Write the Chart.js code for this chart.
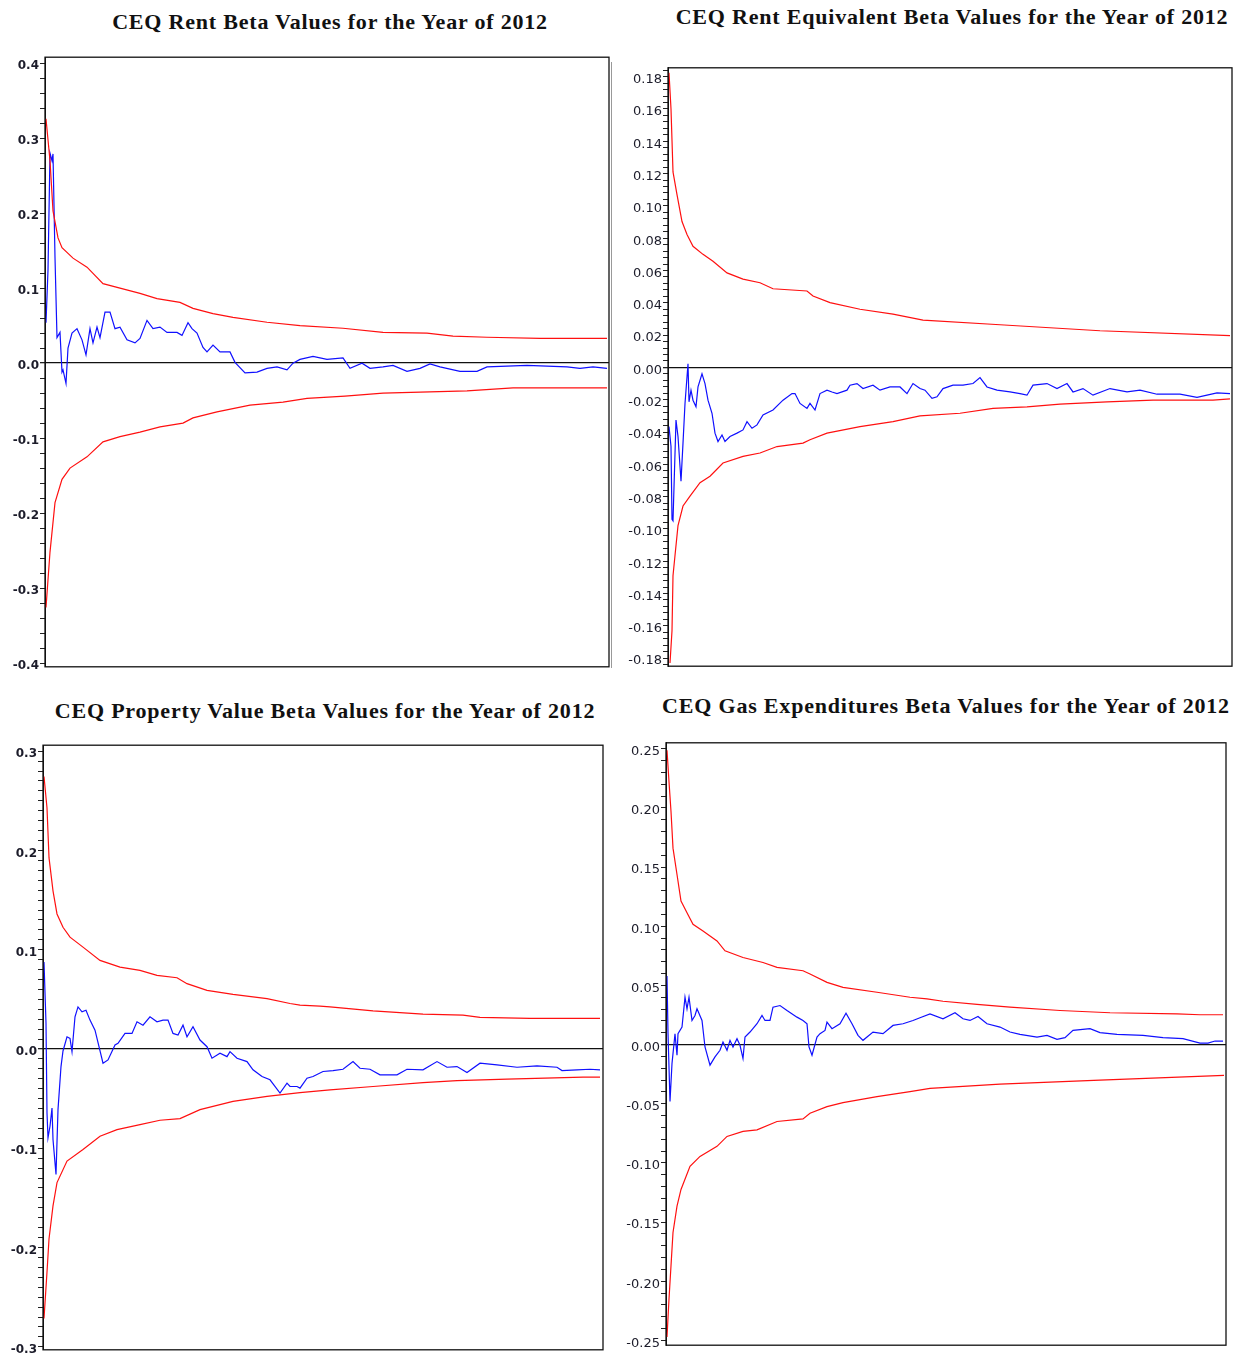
<!DOCTYPE html>
<html>
<head>
<meta charset="utf-8">
<script src="https://cdn.jsdelivr.net/npm/chart.js@4.4.1/dist/chart.umd.min.js"></script>
<style>
  body { margin: 0; background: #fff; width: 1248px; height: 1360px; position: relative; overflow: hidden; }
  .title { position: absolute; font: bold 22px "Liberation Serif", "Times New Roman", serif; color: #111;
           letter-spacing: 0.8px; white-space: nowrap; transform: translateX(-50%); line-height: 24px; }
  canvas { position: absolute; }
  .sep { position: absolute; left: 611px; top: 62px; width: 1px; height: 606px; background: #999; }
</style>
</head>
<body>
<div class="title" style="left:330px;top:10px">CEQ Rent Beta Values for the Year of 2012</div>
<div class="title" style="left:952px;top:5px">CEQ Rent Equivalent Beta Values for the Year of 2012</div>
<div class="title" style="left:325px;top:699px">CEQ Property Value Beta Values for the Year of 2012</div>
<div class="title" style="left:946px;top:694px">CEQ Gas Expenditures Beta Values for the Year of 2012</div>
<div class="sep"></div>
<canvas id="c1"></canvas>
<canvas id="c2"></canvas>
<canvas id="c3"></canvas>
<canvas id="c4"></canvas>
<script>
// x = observation number, y = beta value / confidence bands

// rent
const rentUpperX = [1, 5, 8, 13, 17, 28, 42, 58, 75, 95, 112, 135, 148, 168, 188, 222, 255, 298, 338, 382, 408, 442, 495, 562];
const rentUpper = [0.326, 0.27, 0.203, 0.167, 0.154, 0.14, 0.128, 0.106, 0.1, 0.093, 0.086, 0.081, 0.073, 0.066, 0.061, 0.0545, 0.05, 0.0465, 0.041, 0.040, 0.036, 0.0345, 0.033, 0.033];
const rentLowerX = [1, 5, 10, 17, 25, 42, 58, 75, 95, 115, 138, 148, 172, 205, 238, 262, 300, 338, 422, 468, 562];
const rentLower = [-0.326, -0.252, -0.186, -0.155, -0.14, -0.125, -0.105, -0.098, -0.092, -0.085, -0.08, -0.073, -0.065, -0.056, -0.052, -0.047, -0.044, -0.04, -0.037, -0.033, -0.033];
const rentBetaX = [1, 3, 5, 7, 8, 10, 12, 15, 17, 18, 21, 23, 27, 32, 37, 41, 45, 48, 52, 55,
  60, 65, 70, 75, 82, 90, 95, 102, 108, 115, 122, 132, 137, 143, 147, 152, 158, 162, 168, 175,
  185, 190, 200, 212, 222, 232, 242, 248, 255, 268, 282, 298, 305, 317, 325, 338, 348, 362, 375, 385,
  395, 415, 432, 442, 462, 482, 502, 522, 535, 548, 562];
const rentBeta = [0.054, 0.124, 0.28, 0.27, 0.279, 0.141, 0.034, 0.041, -0.012, -0.009, -0.027, 0.02, 0.04, 0.046, 0.031, 0.011, 0.046, 0.027, 0.048, 0.034,
  0.068, 0.068, 0.046, 0.048, 0.031, 0.027, 0.033, 0.057, 0.046, 0.048, 0.041, 0.041, 0.037, 0.054, 0.046, 0.04, 0.021, 0.015, 0.024, 0.015,
  0.015, 0.001, -0.013, -0.012, -0.007, -0.005, -0.009, 0, 0.005, 0.009, 0.005, 0.007, -0.007, 0, -0.007, -0.005, -0.003, -0.011, -0.007, -0.001,
  -0.005, -0.011, -0.011, -0.005, -0.004, -0.003, -0.004, -0.005, -0.007, -0.005, -0.007];

// rent equivalent
const equivUpperX = [1, 3, 5, 9, 14, 19, 25, 35, 45, 59, 75, 92, 105, 139, 145, 162, 192, 225, 255, 332, 432, 562];
const equivUpper = [0.1824, 0.16, 0.121, 0.107, 0.0903, 0.0823, 0.075, 0.07, 0.0657, 0.0585, 0.0547, 0.0524, 0.0487, 0.0473, 0.0442, 0.0401, 0.036, 0.033, 0.0293, 0.0264, 0.0227, 0.0197];
const equivLowerX = [2, 4, 5, 7, 10, 15, 22, 32, 42, 55, 75, 92, 109, 135, 142, 159, 192, 225, 252, 292, 325, 359, 392, 439, 485, 545, 562];
const equivLower = [-0.183, -0.163, -0.129, -0.1165, -0.098, -0.0858, -0.0797, -0.0714, -0.0674, -0.0592, -0.0551, -0.053, -0.049, -0.0469, -0.0448, -0.0407, -0.0367, -0.0336, -0.03, -0.0284, -0.0254, -0.0244, -0.0227, -0.0213, -0.0203, -0.0203, -0.0195];
const equivBetaX = [1, 3, 4, 5, 8, 10, 13, 15, 17, 20, 21, 23, 25, 28, 30, 34, 37, 40, 44, 47,
  50, 54, 57, 62, 69, 75, 79, 84, 89, 95, 105, 115, 124, 127, 132, 139, 142, 147, 152, 159,
  164, 169, 179, 182, 189, 195, 205, 212, 222, 232, 239, 245, 252, 257, 264, 269, 275, 285, 295, 305,
  312, 319, 329, 342, 352, 359, 365, 379, 389, 399, 405, 415, 425, 442, 459, 472, 489, 512, 529, 539, 549, 562];
const equivBeta = [-0.0367, -0.049, -0.094, -0.095, -0.0326, -0.0428, -0.0705, -0.0469, -0.0223, 0.0023, -0.0213, -0.0141, -0.0203, -0.0244, -0.0121, -0.0039, -0.01, -0.0203, -0.0284, -0.0407,
  -0.0459, -0.0418, -0.0459, -0.0428, -0.0407, -0.0387, -0.0336, -0.0377, -0.0356, -0.0295, -0.0264, -0.0203, -0.0162, -0.0162, -0.0223, -0.0254, -0.0223, -0.0264, -0.0162, -0.0141,
  -0.0152, -0.0162, -0.0141, -0.011, -0.01, -0.0131, -0.011, -0.0141, -0.0121, -0.0121, -0.0162, -0.01, -0.0131, -0.0141, -0.0192, -0.0182, -0.0131, -0.011, -0.011, -0.01,
  -0.0063, -0.0121, -0.0141, -0.0152, -0.0162, -0.0172, -0.011, -0.01, -0.0131, -0.01, -0.0152, -0.0131, -0.0172, -0.0131, -0.0152, -0.0141, -0.0166, -0.0166, -0.0186, -0.0172, -0.0158, -0.0162];

// property value
const propUpperX = [1, 4, 6, 10, 14, 20, 27, 40, 57, 77, 97, 114, 134, 144, 164, 190, 224, 247, 257, 277, 287, 330, 380, 420, 437, 487, 557];
const propUpper = [0.2745, 0.2428, 0.1927, 0.1593, 0.136, 0.1226, 0.1126, 0.1026, 0.0892, 0.0825, 0.0792, 0.0741, 0.0718, 0.0658, 0.0591, 0.0551, 0.0508, 0.0458, 0.0441, 0.0431, 0.0424, 0.0384, 0.0351, 0.0341, 0.0318, 0.0308, 0.0308];
const propLowerX = [1, 4, 6, 10, 14, 24, 40, 57, 74, 97, 117, 137, 157, 190, 224, 257, 287, 330, 380, 414, 464, 540, 557];
const propLower = [-0.2715, -0.2247, -0.1914, -0.158, -0.1346, -0.1129, -0.1012, -0.0879, -0.0812, -0.0762, -0.0718, -0.0701, -0.0611, -0.0528, -0.0478, -0.044, -0.0411, -0.0378, -0.0338, -0.0318, -0.0304, -0.0284, -0.0284];
const propBetaX = [1, 3, 4, 5, 7, 9, 10, 13, 15, 18, 20, 24, 27, 29, 32, 35, 39, 43, 47, 52,
  56, 60, 65, 72, 75, 82, 89, 94, 100, 107, 114, 120, 125, 130, 135, 140, 144, 150, 157, 164,
  169, 177, 184, 187, 194, 204, 210, 219, 227, 237, 244, 247, 254, 257, 264, 270, 280, 290, 300, 310,
  317, 327, 337, 354, 364, 380, 394, 404, 414, 424, 437, 454, 474, 494, 514, 519, 534, 547, 557];
const propBeta = [0.0875, 0.026, -0.0644, -0.0895, -0.0778, -0.0594, -0.0912, -0.1263, -0.0611, -0.0177, -0.002, 0.0123, 0.0107, -0.0027, 0.0324, 0.0424, 0.0374, 0.0391, 0.0291, 0.019,
  0.0023, -0.0143, -0.011, 0.004, 0.0057, 0.0157, 0.0157, 0.0274, 0.024, 0.0324, 0.0274, 0.0291, 0.0291, 0.0157, 0.014, 0.024, 0.0123, 0.0224, 0.009, 0.0023,
  -0.0093, -0.0043, -0.0077, -0.0027, -0.0093, -0.0127, -0.021, -0.0277, -0.031, -0.0444, -0.0344, -0.0378, -0.0378, -0.0394, -0.0294, -0.0277, -0.0227, -0.0217, -0.0204, -0.0127,
  -0.0194, -0.0204, -0.026, -0.026, -0.0204, -0.021, -0.0127, -0.0184, -0.0177, -0.0237, -0.0143, -0.016, -0.0184, -0.017, -0.0184, -0.0217, -0.021, -0.0204, -0.021];

// gas expenditures
const gasUpperX = [1, 3, 5, 7, 11, 15, 21, 27, 37, 51, 59, 77, 97, 111, 137, 144, 161, 177, 211, 244, 261, 277, 311, 344, 394, 444, 511, 534, 557];
const gasUpper = [0.2487, 0.2221, 0.1969, 0.166, 0.1437, 0.1213, 0.1114, 0.1017, 0.096, 0.0876, 0.0792, 0.0736, 0.0694, 0.0652, 0.0624, 0.0597, 0.0526, 0.0484, 0.0442, 0.04, 0.0387, 0.0366, 0.0339, 0.0316, 0.0288, 0.0269, 0.026, 0.0252, 0.0252];
const gasLowerX = [1, 3, 5, 7, 11, 15, 24, 34, 51, 61, 77, 91, 111, 137, 144, 161, 177, 211, 244, 264, 334, 434, 558];
const gasLower = [-0.247, -0.2149, -0.1869, -0.1588, -0.1365, -0.1224, -0.1029, -0.0945, -0.086, -0.0776, -0.0734, -0.072, -0.065, -0.0628, -0.058, -0.0524, -0.0491, -0.044, -0.0398, -0.037, -0.0334, -0.03, -0.026];
const gasBetaX = [1, 2, 4, 6, 7, 9, 11, 12, 16, 19, 21, 23, 26, 29, 31, 36, 39, 44, 49, 54,
  57, 61, 64, 67, 71, 74, 77, 79, 84, 91, 96, 99, 104, 107, 114, 121, 131, 137, 141, 143,
  146, 151, 154, 159, 161, 166, 174, 180, 186, 192, 197, 207, 217, 227, 237, 247, 254, 264, 277, 289,
  297, 304, 312, 321, 334, 344, 354, 371, 381, 391, 399, 407, 424, 434, 451, 477, 497, 517, 534, 542, 549, 557];
const gasBeta = [0.058, 0.01, -0.048, -0.016, -0.0076, 0.0092, -0.009, 0.0092, 0.0148, 0.04, 0.0302, 0.04, 0.0204, 0.0246, 0.0302, 0.0204, -0.002, -0.0174, -0.0104, -0.0048,
  0.0022, -0.0048, 0.0036, -0.002, 0.005, -0.0006, -0.0118, 0.0064, 0.0106, 0.0176, 0.0246, 0.0204, 0.0204, 0.0316, 0.033, 0.0288, 0.0232, 0.0204, 0.0176, -0.002,
  -0.009, 0.0064, 0.0092, 0.012, 0.019, 0.0134, 0.0176, 0.0266, 0.0176, 0.0078, 0.0036, 0.0106, 0.0092, 0.0162, 0.0176, 0.0204, 0.0227, 0.026, 0.0218, 0.0269,
  0.0218, 0.0204, 0.0238, 0.0176, 0.0148, 0.0106, 0.0087, 0.0064, 0.0078, 0.0045, 0.0059, 0.012, 0.0134, 0.0101, 0.0087, 0.0078, 0.0059, 0.005, 0.0013, 0.0013, 0.003, 0.003];

const PAD = 7;

function pts(xs, ys) {
  return xs.map((x, i) => ({ x, y: ys[i] }));
}

const framePlugin = {
  id: "frame",
  afterDatasetsDraw(chart) {
    const { ctx, chartArea: a } = chart;
    ctx.save();
    ctx.strokeStyle = "#111";
    ctx.lineWidth = 1.3;
    ctx.strokeRect(a.left, a.top, a.right - a.left, a.bottom - a.top);
    ctx.restore();
  }
};

function makeChart(id, p) {
  const canvas = document.getElementById(id);
  canvas.width = p.plot.r - p.plot.l + p.axisW + PAD;
  canvas.height = p.plot.b - p.plot.t + 2 * PAD;
  canvas.style.left = (p.plot.l - p.axisW) + "px";
  canvas.style.top = (p.plot.t - PAD) + "px";

  const isZero = v => Math.abs(v) < 1e-9;

  new Chart(canvas, {
    type: "line",
    data: {
      datasets: [
        { data: pts(p.upperX, p.upper), borderColor: "#ff1010", borderWidth: 1.2 },
        { data: pts(p.lowerX, p.lower), borderColor: "#ff1010", borderWidth: 1.2 },
        { data: pts(p.betaX, p.beta), borderColor: "#1010ff", borderWidth: 1.2 }
      ]
    },
    options: {
      responsive: false,
      animation: false,
      events: [],
      elements: { point: { radius: 0 }, line: { tension: 0 } },
      layout: { padding: { top: PAD, bottom: PAD, right: PAD, left: 0 } },
      plugins: { legend: { display: false }, tooltip: { enabled: false } },
      scales: {
        x: { type: "linear", min: 0, max: p.plot.r - p.plot.l, display: false },
        y: {
          min: p.min,
          max: p.max,
          afterFit: s => { s.width = p.axisW; },
          border: { display: true, color: "#111", width: 1 },
          grid: {
            color: c => isZero(c.tick.value) ? "#111" : "rgba(0,0,0,0)",
            lineWidth: c => isZero(c.tick.value) ? 1.3 : 1,
            tickColor: "#222",
            tickLength: 5,
            drawTicks: true
          },
          ticks: {
            stepSize: p.step,
            maxTicksLimit: 1000,
            autoSkip: false,
            includeBounds: false,
            padding: 1,
            labelOffset: 3,
            color: "#1c1c2a",
            font: { family: "DejaVu Sans", size: p.bold ? 12 : 13, weight: p.bold ? "bold" : "normal" },
            callback: v => {
              const k = v / p.major;
              return Math.abs(k - Math.round(k)) < 1e-6 ? (isZero(v) ? 0 : v).toFixed(p.decimals) : "";
            }
          }
        }
      }
    },
    plugins: [framePlugin]
  });
}

makeChart("c1", {
  plot: { l: 45, t: 56, r: 609, b: 668 }, axisW: 40,
  min: -0.405, max: 0.408, step: 0.02, major: 0.1, decimals: 1, bold: true,
  upperX: rentUpperX, upper: rentUpper, lowerX: rentLowerX, lower: rentLower, betaX: rentBetaX, beta: rentBeta
});
makeChart("c2", {
  plot: { l: 668, t: 66, r: 1232, b: 668 }, axisW: 46,
  min: -0.185, max: 0.1855, step: 0.004, major: 0.02, decimals: 2, bold: false,
  upperX: equivUpperX, upper: equivUpper, lowerX: equivLowerX, lower: equivLower, betaX: equivBetaX, beta: equivBeta
});
makeChart("c3", {
  plot: { l: 43, t: 744, r: 603, b: 1351 }, axisW: 40,
  min: -0.303, max: 0.306, step: 0.01, major: 0.1, decimals: 1, bold: true,
  upperX: propUpperX, upper: propUpper, lowerX: propLowerX, lower: propLower, betaX: propBetaX, beta: propBeta
});
makeChart("c4", {
  plot: { l: 666, t: 741, r: 1226, b: 1347 }, axisW: 46,
  min: -0.254, max: 0.255, step: 0.01, major: 0.05, decimals: 2, bold: false,
  upperX: gasUpperX, upper: gasUpper, lowerX: gasLowerX, lower: gasLower, betaX: gasBetaX, beta: gasBeta
});
</script>
</body>
</html>
